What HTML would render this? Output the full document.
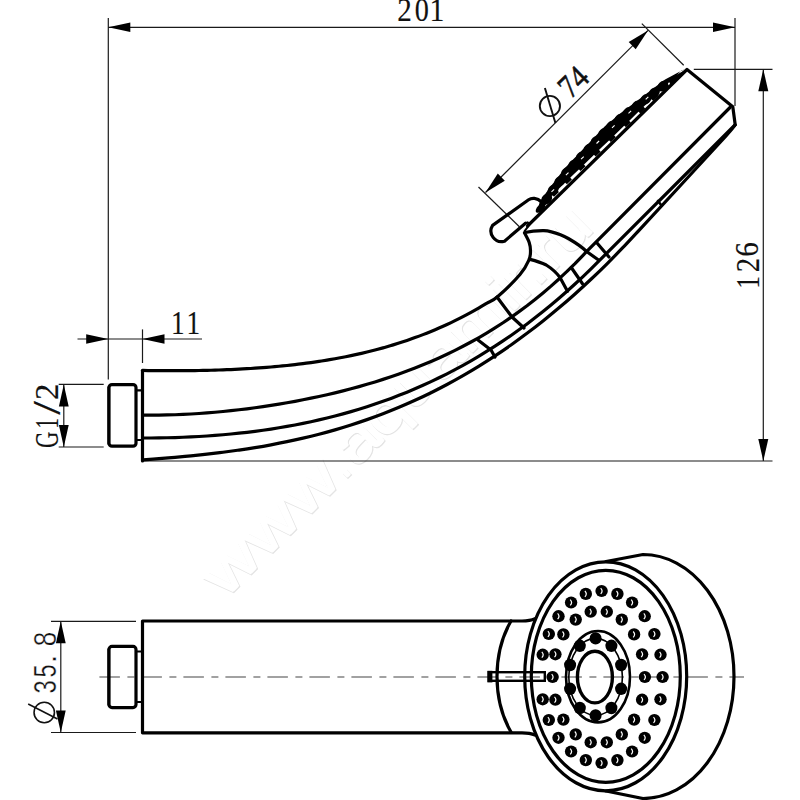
<!DOCTYPE html>
<html><head><meta charset="utf-8"><style>
html,body{margin:0;padding:0;background:#fff;}
svg{display:block;}
</style></head><body>
<svg width="800" height="800" viewBox="0 0 800 800">
<rect width="800" height="800" fill="#fff"/>
<g font-family="Liberation Sans" font-size="57">
<text transform="translate(225.9,600.3) rotate(-45)" textLength="167" lengthAdjust="spacingAndGlyphs" fill="none" stroke="#e4e4e4" stroke-width="1.3">www</text><text transform="translate(224.9,599.3) rotate(-45)" textLength="167" lengthAdjust="spacingAndGlyphs" fill="#fff" stroke="#fff" stroke-width="0.9">www</text><text transform="translate(344.7,481.5) rotate(-45)" textLength="14" lengthAdjust="spacingAndGlyphs" fill="none" stroke="#e4e4e4" stroke-width="1.3">.</text><text transform="translate(343.7,480.5) rotate(-45)" textLength="14" lengthAdjust="spacingAndGlyphs" fill="#fff" stroke="#fff" stroke-width="0.9">.</text><text transform="translate(356.8,469.4) rotate(-45)" textLength="339" lengthAdjust="spacingAndGlyphs" fill="none" stroke="#e4e4e4" stroke-width="1.3">aquamir.ru</text><text transform="translate(355.8,468.4) rotate(-45)" textLength="339" lengthAdjust="spacingAndGlyphs" fill="#fff" stroke="#fff" stroke-width="0.9">aquamir.ru</text>
</g>
<g stroke="#1a1a1a" stroke-width="1.2" fill="none"><line x1="108.3" y1="18" x2="108.3" y2="379.5" /><line x1="735" y1="18" x2="735" y2="106" /><line x1="108.3" y1="27.3" x2="735" y2="27.3" /><line x1="77.5" y1="339" x2="202" y2="339" /><line x1="142.5" y1="329.4" x2="142.5" y2="363" /><line x1="693.8" y1="69.3" x2="772.5" y2="69.3" /><line x1="143" y1="461" x2="772.5" y2="461" /><line x1="763.3" y1="69.3" x2="763.3" y2="461" /><line x1="58.7" y1="384.4" x2="103.7" y2="384.4" /><line x1="58.7" y1="447" x2="103.7" y2="447" /><line x1="63.8" y1="384.4" x2="63.8" y2="447" /><line x1="485.5" y1="192.5" x2="648" y2="30.4" /><line x1="478.5" y1="187" x2="519.4" y2="226.75" /><line x1="641.8" y1="23.6" x2="683.7" y2="65.3" /><line x1="51" y1="621.3" x2="136" y2="621.3" /><line x1="51" y1="732.5" x2="136" y2="732.5" /><line x1="60.8" y1="621.3" x2="60.8" y2="732.5" /></g>
<path d="M108.3,27.3 L130.3,32.1 L130.3,22.5 Z" fill="#000"/><path d="M735.0,27.3 L713.0,22.5 L713.0,32.1 Z" fill="#000"/><path d="M108.2,339.0 L86.2,334.2 L86.2,343.8 Z" fill="#000"/><path d="M142.5,339.0 L164.5,343.8 L164.5,334.2 Z" fill="#000"/><path d="M763.3,69.3 L758.3,91.3 L768.3,91.3 Z" fill="#000"/><path d="M763.3,461.0 L768.3,439.0 L758.3,439.0 Z" fill="#000"/><path d="M63.8,384.4 L58.9,406.4 L68.7,406.4 Z" fill="#000"/><path d="M63.8,447.0 L68.7,425.0 L58.9,425.0 Z" fill="#000"/><path d="M485.5,192.5 L504.8,180.8 L497.8,173.6 Z" fill="#000"/><path d="M648.0,30.4 L628.7,42.1 L635.7,49.3 Z" fill="#000"/><path d="M60.8,621.3 L55.9,643.3 L65.7,643.3 Z" fill="#000"/><path d="M60.8,732.5 L65.7,710.5 L55.9,710.5 Z" fill="#000"/>
<line x1="99.4" y1="677" x2="744" y2="677" stroke="#444" stroke-width="1.2" stroke-dasharray="20.5 7.5 7 7"/>
<g stroke="#000" stroke-width="3.2" fill="none" stroke-linejoin="round" stroke-linecap="round"><rect x="109.0" y="384.6" width="27.0" height="61.6" rx="3" ry="3" stroke-width="3.2"/><path d="M108.2,387 V444" stroke-width="1.6"/><path d="M136,390.3 H142.5 M136,440 H142.5" stroke-width="2.2"/><path d="M142.5,370.3 V461"/><path d="M143.00,370.47 C144.33,370.49 148.33,370.55 151.00,370.58 C153.67,370.62 156.33,370.64 159.00,370.67 C161.67,370.69 164.33,370.70 167.00,370.71 C169.67,370.72 172.33,370.72 175.00,370.72 C177.67,370.71 180.33,370.70 183.00,370.68 C185.67,370.67 188.33,370.64 191.00,370.61 C193.67,370.58 196.33,370.54 199.00,370.49 C201.67,370.44 204.33,370.39 207.00,370.33 C209.67,370.26 212.33,370.19 215.00,370.11 C217.67,370.03 220.33,369.95 223.00,369.85 C225.67,369.75 228.33,369.64 231.00,369.53 C233.67,369.41 236.33,369.29 239.00,369.15 C241.67,369.02 244.33,368.87 247.00,368.71 C249.67,368.56 252.33,368.39 255.00,368.21 C257.67,368.03 260.33,367.84 263.00,367.64 C265.67,367.44 268.33,367.23 271.00,367.00 C273.67,366.77 276.33,366.53 279.00,366.28 C281.67,366.03 284.33,365.76 287.00,365.48 C289.67,365.20 292.33,364.91 295.00,364.60 C297.67,364.29 300.33,363.97 303.00,363.63 C305.67,363.29 308.33,362.94 311.00,362.57 C313.67,362.19 316.33,361.81 319.00,361.40 C321.67,361.00 324.33,360.57 327.00,360.13 C329.67,359.69 332.33,359.23 335.00,358.75 C337.67,358.28 340.33,357.78 343.00,357.26 C345.67,356.74 348.33,356.21 351.00,355.65 C353.67,355.09 356.33,354.51 359.00,353.91 C361.67,353.30 364.33,352.68 367.00,352.03 C369.67,351.38 372.33,350.71 375.00,350.02 C377.67,349.32 380.33,348.60 383.00,347.86 C385.67,347.11 388.33,346.34 391.00,345.54 C393.67,344.74 396.33,343.92 399.00,343.07 C401.67,342.22 404.33,341.34 407.00,340.43 C409.67,339.52 412.33,338.58 415.00,337.61 C417.67,336.64 420.33,335.65 423.00,334.62 C425.67,333.59 428.33,332.52 431.00,331.43 C433.67,330.33 436.33,329.21 439.00,328.04 C441.67,326.88 444.33,325.69 447.00,324.45 C449.67,323.22 452.33,321.96 455.00,320.65 C457.67,319.35 460.33,318.00 463.00,316.62 C465.67,315.24 468.33,313.83 471.00,312.37 C473.67,310.91 476.33,309.41 479.00,307.87 C481.67,306.33 483.92,304.97 487.00,303.12 C490.08,301.28 492.00,301.57 497.50,296.80 C503.00,292.03 514.77,280.63 520.00,274.50 C525.23,268.37 527.15,263.92 528.90,260.00 C530.65,256.08 530.45,253.92 530.50,251.00 C530.55,248.08 530.20,245.52 529.20,242.50 C528.20,239.48 525.28,234.50 524.50,232.90"/><path d="M143.00,415.05 L151.00,415.12 L159.00,415.09 L167.00,414.96 L175.00,414.73 L183.00,414.41 L191.00,414.00 L199.00,413.50 L207.00,412.92 L215.00,412.25 L223.00,411.51 L231.00,410.69 L239.00,409.78 L247.00,408.81 L255.00,407.75 L263.00,406.62 L271.00,405.41 L279.00,404.13 L287.00,402.76 L295.00,401.32 L303.00,399.79 L311.00,398.18 L319.00,396.48 L327.00,394.70 L335.00,392.82 L343.00,390.84 L351.00,388.77 L359.00,386.59 L367.00,384.31 L375.00,381.91 L383.00,379.39 L391.00,376.75 L399.00,373.98 L407.00,371.07 L415.00,368.02 L423.00,364.82 L431.00,361.46 L439.00,357.93 L447.00,354.24 L455.00,350.36 L463.00,346.29 L471.00,342.02 L479.00,337.54 L487.00,332.85 L495.00,327.92 L503.00,322.76 L511.00,317.34 L519.00,311.66 L527.00,305.71 L535.00,299.48 L543.00,292.94 L551.00,286.10 L559.00,278.94 L567.00,271.43 L575.00,263.58 L583.00,255.36 L586.00,252.19 L730.00,107.50"/><path d="M143.00,438.01 L151.00,438.00 L159.00,437.91 L167.00,437.77 L175.00,437.55 L183.00,437.27 L191.00,436.92 L199.00,436.49 L207.00,436.00 L215.00,435.42 L223.00,434.77 L231.00,434.03 L239.00,433.21 L247.00,432.31 L255.00,431.32 L263.00,430.24 L271.00,429.06 L279.00,427.79 L287.00,426.43 L295.00,424.96 L303.00,423.39 L311.00,421.71 L319.00,419.92 L327.00,418.02 L335.00,416.00 L343.00,413.87 L351.00,411.62 L359.00,409.23 L367.00,406.73 L375.00,404.09 L383.00,401.31 L391.00,398.40 L399.00,395.34 L407.00,392.14 L415.00,388.79 L423.00,385.28 L431.00,381.62 L439.00,377.79 L447.00,373.81 L455.00,369.65 L463.00,365.32 L471.00,360.81 L479.00,356.12 L487.00,351.24 L495.00,346.18 L503.00,340.91 L511.00,335.45 L519.00,329.79 L527.00,323.92 L535.00,317.83 L543.00,311.53 L551.00,305.00 L559.00,298.25 L567.00,291.26 L575.00,284.04 L583.00,276.57 L591.00,268.86 L597.00,262.90 L735.00,125.00"/><path d="M143.00,459.81 C145.67,459.61 153.67,459.03 159.00,458.61 C164.33,458.19 169.67,457.75 175.00,457.29 C180.33,456.82 185.67,456.33 191.00,455.81 C196.33,455.28 201.67,454.73 207.00,454.13 C212.33,453.54 217.67,452.91 223.00,452.23 C228.33,451.55 233.67,450.84 239.00,450.07 C244.33,449.30 249.67,448.49 255.00,447.61 C260.33,446.74 265.67,445.82 271.00,444.83 C276.33,443.84 281.67,442.80 287.00,441.69 C292.33,440.58 297.67,439.41 303.00,438.17 C308.33,436.92 313.67,435.61 319.00,434.23 C324.33,432.84 329.67,431.38 335.00,429.84 C340.33,428.30 345.67,426.69 351.00,424.98 C356.33,423.28 361.67,421.50 367.00,419.63 C372.33,417.76 377.67,415.80 383.00,413.75 C388.33,411.70 393.67,409.56 399.00,407.32 C404.33,405.08 409.67,402.75 415.00,400.31 C420.33,397.88 425.67,395.35 431.00,392.71 C436.33,390.07 441.67,387.34 447.00,384.49 C452.33,381.64 457.67,378.69 463.00,375.63 C468.33,372.56 473.67,369.39 479.00,366.10 C484.33,362.81 489.67,359.41 495.00,355.89 C500.33,352.37 505.67,348.73 511.00,344.98 C516.33,341.22 521.67,337.34 527.00,333.34 C532.33,329.34 537.67,325.22 543.00,320.97 C548.33,316.72 553.67,312.35 559.00,307.84 C564.33,303.34 569.67,298.71 575.00,293.94 C580.33,289.18 585.67,284.29 591.00,279.26 C596.33,274.23 601.67,269.07 607.00,263.77 C612.33,258.47 617.67,253.04 623.00,247.47 C628.33,241.89 622.83,247.83 639.00,230.34 C655.17,212.84 704.00,160.06 720.00,142.50 C736.00,124.94 732.50,127.92 735.00,125.00"/><path d="M497,297 L512,317 L524,328"/><path d="M478,340 L491,350 L495,357"/><path d="M586.25,251.25 L598.5,260"/><path d="M560,277.5 L567.5,291.25"/><path d="M571.25,267.5 L582.5,283.75"/><path d="M597,243 L609,257"/><path d="M658,201 L661.5,205.5" stroke-width="2.6"/><path d="M525,232.5 C533,230.5 543.75,230.6 543.75,230.6 C555,231 568.75,238.75 568.75,238.75 C576,243 582,247 586.25,251.25"/><path d="M530,259.4 C536,261 542,263 546.25,265 C551,268 556,272 560,277.5"/><path d="M527.5,226 L687,69.5 L732.8,106.8 L735.2,124.8"/><path d="M525.5,223.25 L504.5,241.2 A10.6,10.6 0 0 1 492.6,225.4 L528.6,199.8 C531.5,197.8 537,197.5 541.5,202"/><path d="M525.5,223.25 L527.7,222.3 L529.5,224.6 L524.6,231.1" stroke-width="2"/><rect x="109.0" y="646.4" width="27.0" height="61.2" rx="3" ry="3" stroke-width="3.2"/><path d="M108.2,649 V705" stroke-width="1.6"/><path d="M136,651.5 H142.5 M136,702 H142.5" stroke-width="2.2"/><path d="M142.5,732.5 V621 H522 Q530,621 535,618.7 M142.5,732.8 H522 Q530,732.8 535,735"/><path d="M511,621 C500,640 497,660 497,676.5 C497,693 500,713 511,732"/><path d="M606,561.5 L643,554.5 A91,122 0 0 1 643,798.5 L606,791"/><ellipse cx="605.7" cy="676.3" rx="81" ry="114.5"/><ellipse cx="605.8" cy="676.3" rx="74.5" ry="106"/><ellipse cx="598" cy="676.7" rx="32" ry="45.7" stroke-width="2.6"/><ellipse cx="595.6" cy="676.9" rx="26.8" ry="38.5" stroke-width="1.6"/><ellipse cx="594.9" cy="677.1" rx="17.5" ry="25.8" stroke-width="3.4"/></g>
<path d="M538.0,209.8 L538.6,206.7 L539.2,203.7 L540.4,201.2 L541.8,199.0 L543.3,196.9 L544.8,194.7 L546.2,192.6 L547.7,190.4 L549.3,188.3 L550.9,186.3 L552.4,184.2 L554.0,182.2 L555.6,180.1 L557.2,178.1 L558.8,176.0 L560.3,173.9 L561.9,171.9 L563.5,169.8 L565.1,167.8 L566.9,166.0 L568.7,164.1 L570.5,162.3 L572.2,160.4 L574.0,158.6 L575.8,156.7 L577.6,154.9 L579.3,153.0 L581.1,151.2 L582.9,149.3 L584.7,147.5 L586.4,145.6 L588.2,143.8 L590.0,141.9 L591.7,140.1 L593.5,138.2 L595.3,136.3 L597.0,134.5 L598.8,132.6 L600.6,130.8 L602.3,128.9 L604.1,127.1 L606.0,125.3 L608.0,123.7 L610.0,122.0 L611.9,120.4 L613.9,118.7 L615.9,117.1 L617.8,115.5 L619.8,113.8 L621.8,112.2 L623.9,110.6 L625.9,109.1 L628.0,107.5 L630.1,106.0 L632.2,104.5 L634.2,102.9 L636.3,101.4 L638.4,99.8 L640.5,98.3 L642.5,96.7 L644.6,95.2 L646.6,93.6 L648.6,92.0 L650.7,90.4 L652.7,88.9 L654.8,87.3 L656.8,85.7 L658.9,84.2 L660.9,82.6 L663.0,81.0 L665.1,79.5 L667.4,78.3 L669.8,77.0 L672.1,75.7 L674.4,74.4 L676.7,73.2 L679.1,71.9 L681.6,70.8 L684.0,69.6 L686.4,68.4 L681.4,70.4 L674.2,77.4 L667.0,84.3 L659.8,91.3 L652.6,98.2 L645.4,105.1 L638.2,112.1 L631.1,119.0 L623.9,126.0 L616.7,132.9 L609.5,139.9 L602.3,146.8 L595.1,153.8 L587.9,160.7 L580.7,167.7 L573.5,174.6 L566.3,181.6 L559.1,188.5 L551.9,195.5 L544.8,202.4 L537.6,209.4 Z" fill="#000"/><ellipse cx="540.5" cy="208.1" rx="6.0" ry="3.1" transform="rotate(-44 540.5 208.1)" fill="#000"/><ellipse cx="546.7" cy="199.0" rx="6.0" ry="4.8" transform="rotate(-44 546.7 199.0)" fill="#000"/><ellipse cx="553.1" cy="190.0" rx="6.0" ry="4.8" transform="rotate(-44 553.1 190.0)" fill="#000"/><ellipse cx="559.7" cy="181.4" rx="6.0" ry="4.8" transform="rotate(-44 559.7 181.4)" fill="#000"/><ellipse cx="566.4" cy="172.7" rx="6.0" ry="4.8" transform="rotate(-44 566.4 172.7)" fill="#000"/><ellipse cx="573.7" cy="164.8" rx="6.0" ry="4.8" transform="rotate(-44 573.7 164.8)" fill="#000"/><ellipse cx="581.2" cy="157.0" rx="6.0" ry="4.8" transform="rotate(-44 581.2 157.0)" fill="#000"/><ellipse cx="588.7" cy="149.2" rx="6.0" ry="4.8" transform="rotate(-44 588.7 149.2)" fill="#000"/><ellipse cx="596.1" cy="141.3" rx="6.0" ry="4.8" transform="rotate(-44 596.1 141.3)" fill="#000"/><ellipse cx="603.6" cy="133.5" rx="6.0" ry="4.8" transform="rotate(-44 603.6 133.5)" fill="#000"/><ellipse cx="611.4" cy="126.1" rx="6.0" ry="4.8" transform="rotate(-44 611.4 126.1)" fill="#000"/><ellipse cx="619.8" cy="119.2" rx="6.0" ry="4.8" transform="rotate(-44 619.8 119.2)" fill="#000"/><ellipse cx="628.3" cy="112.4" rx="6.0" ry="4.8" transform="rotate(-44 628.3 112.4)" fill="#000"/><ellipse cx="637.0" cy="105.9" rx="6.0" ry="4.8" transform="rotate(-44 637.0 105.9)" fill="#000"/><ellipse cx="645.7" cy="99.4" rx="6.0" ry="4.8" transform="rotate(-44 645.7 99.4)" fill="#000"/><ellipse cx="654.3" cy="92.8" rx="6.0" ry="4.8" transform="rotate(-44 654.3 92.8)" fill="#000"/><ellipse cx="662.9" cy="86.1" rx="6.0" ry="4.8" transform="rotate(-44 662.9 86.1)" fill="#000"/><line x1="545.0" y1="205.5" x2="542.7" y2="203.2" stroke="#000" stroke-width="4"/><line x1="556.5" y1="194.4" x2="554.2" y2="192.1" stroke="#000" stroke-width="7"/><line x1="569.4" y1="181.9" x2="567.1" y2="179.5" stroke="#000" stroke-width="7"/><line x1="583.1" y1="168.7" x2="580.8" y2="166.3" stroke="#000" stroke-width="7"/><line x1="598.2" y1="154.1" x2="595.9" y2="151.8" stroke="#000" stroke-width="7"/><line x1="613.3" y1="139.5" x2="611.0" y2="137.2" stroke="#000" stroke-width="7"/><line x1="628.4" y1="124.9" x2="626.1" y2="122.6" stroke="#000" stroke-width="7"/><line x1="642.8" y1="111.0" x2="640.5" y2="108.7" stroke="#000" stroke-width="7"/><line x1="655.7" y1="98.5" x2="653.4" y2="96.2" stroke="#000" stroke-width="7"/><line x1="666.5" y1="88.1" x2="664.2" y2="85.7" stroke="#000" stroke-width="7"/><path d="M670.6,85.1 L667.9,79.4 L686.9,68.9 Z" fill="#000"/><line x1="551.5" y1="191.9" x2="554.1" y2="189.4" stroke="#fff" stroke-width="1.1"/><line x1="565.9" y1="175.1" x2="568.5" y2="172.6" stroke="#fff" stroke-width="1.1"/><line x1="581.1" y1="159.1" x2="583.7" y2="156.6" stroke="#fff" stroke-width="1.1"/><line x1="596.5" y1="143.5" x2="599.1" y2="141.0" stroke="#fff" stroke-width="1.1"/><line x1="612.0" y1="127.8" x2="614.6" y2="125.3" stroke="#fff" stroke-width="1.1"/><line x1="628.5" y1="113.3" x2="631.1" y2="110.8" stroke="#fff" stroke-width="1.1"/><line x1="645.7" y1="99.4" x2="648.3" y2="96.9" stroke="#fff" stroke-width="1.1"/>
<ellipse cx="601.6" cy="591.0" rx="6.2" ry="6.1" fill="#000"/><path d="M600.7,588.1 Q603.5,591.0 600.7,593.9" stroke="#fff" stroke-width="1.2" fill="none"/><ellipse cx="617.4" cy="593.9" rx="6.2" ry="6.1" fill="#000"/><path d="M616.5,591.0 Q619.3,593.9 616.5,596.8" stroke="#fff" stroke-width="1.2" fill="none"/><ellipse cx="632.1" cy="602.5" rx="6.2" ry="6.1" fill="#000"/><path d="M631.2,599.6 Q634.0,602.5 631.2,605.4" stroke="#fff" stroke-width="1.2" fill="none"/><ellipse cx="644.7" cy="616.2" rx="6.2" ry="6.1" fill="#000"/><path d="M643.8,613.3 Q646.6,616.2 643.8,619.1" stroke="#fff" stroke-width="1.2" fill="none"/><ellipse cx="654.4" cy="634.0" rx="6.2" ry="6.1" fill="#000"/><path d="M653.5,631.1 Q656.3,634.0 653.5,636.9" stroke="#fff" stroke-width="1.2" fill="none"/><ellipse cx="660.5" cy="654.7" rx="6.2" ry="6.1" fill="#000"/><path d="M659.6,651.8 Q662.4,654.7 659.6,657.6" stroke="#fff" stroke-width="1.2" fill="none"/><ellipse cx="662.6" cy="677.0" rx="6.2" ry="6.1" fill="#000"/><path d="M661.7,674.1 Q664.5,677.0 661.7,679.9" stroke="#fff" stroke-width="1.2" fill="none"/><ellipse cx="660.5" cy="699.3" rx="6.2" ry="6.1" fill="#000"/><path d="M659.6,696.4 Q662.4,699.3 659.6,702.2" stroke="#fff" stroke-width="1.2" fill="none"/><ellipse cx="654.4" cy="720.0" rx="6.2" ry="6.1" fill="#000"/><path d="M653.5,717.1 Q656.3,720.0 653.5,722.9" stroke="#fff" stroke-width="1.2" fill="none"/><ellipse cx="644.7" cy="737.8" rx="6.2" ry="6.1" fill="#000"/><path d="M643.8,734.9 Q646.6,737.8 643.8,740.7" stroke="#fff" stroke-width="1.2" fill="none"/><ellipse cx="632.1" cy="751.5" rx="6.2" ry="6.1" fill="#000"/><path d="M631.2,748.6 Q634.0,751.5 631.2,754.4" stroke="#fff" stroke-width="1.2" fill="none"/><ellipse cx="617.4" cy="760.1" rx="6.2" ry="6.1" fill="#000"/><path d="M616.5,757.2 Q619.3,760.1 616.5,763.0" stroke="#fff" stroke-width="1.2" fill="none"/><ellipse cx="601.6" cy="763.0" rx="6.2" ry="6.1" fill="#000"/><path d="M600.7,760.1 Q603.5,763.0 600.7,765.9" stroke="#fff" stroke-width="1.2" fill="none"/><ellipse cx="585.8" cy="760.1" rx="6.2" ry="6.1" fill="#000"/><path d="M584.9,757.2 Q587.7,760.1 584.9,763.0" stroke="#fff" stroke-width="1.2" fill="none"/><ellipse cx="571.1" cy="751.5" rx="6.2" ry="6.1" fill="#000"/><path d="M570.2,748.6 Q573.0,751.5 570.2,754.4" stroke="#fff" stroke-width="1.2" fill="none"/><ellipse cx="558.5" cy="737.8" rx="6.2" ry="6.1" fill="#000"/><path d="M557.6,734.9 Q560.4,737.8 557.6,740.7" stroke="#fff" stroke-width="1.2" fill="none"/><ellipse cx="548.8" cy="720.0" rx="6.2" ry="6.1" fill="#000"/><path d="M547.9,717.1 Q550.7,720.0 547.9,722.9" stroke="#fff" stroke-width="1.2" fill="none"/><ellipse cx="542.7" cy="699.3" rx="6.2" ry="6.1" fill="#000"/><path d="M541.8,696.4 Q544.6,699.3 541.8,702.2" stroke="#fff" stroke-width="1.2" fill="none"/><ellipse cx="542.7" cy="654.7" rx="6.2" ry="6.1" fill="#000"/><path d="M541.8,651.8 Q544.6,654.7 541.8,657.6" stroke="#fff" stroke-width="1.2" fill="none"/><ellipse cx="548.8" cy="634.0" rx="6.2" ry="6.1" fill="#000"/><path d="M547.9,631.1 Q550.7,634.0 547.9,636.9" stroke="#fff" stroke-width="1.2" fill="none"/><ellipse cx="558.5" cy="616.2" rx="6.2" ry="6.1" fill="#000"/><path d="M557.6,613.3 Q560.4,616.2 557.6,619.1" stroke="#fff" stroke-width="1.2" fill="none"/><ellipse cx="571.1" cy="602.5" rx="6.2" ry="6.1" fill="#000"/><path d="M570.2,599.6 Q573.0,602.5 570.2,605.4" stroke="#fff" stroke-width="1.2" fill="none"/><ellipse cx="585.8" cy="593.9" rx="6.2" ry="6.1" fill="#000"/><path d="M584.9,591.0 Q587.7,593.9 584.9,596.8" stroke="#fff" stroke-width="1.2" fill="none"/><ellipse cx="606.8" cy="611.7" rx="6.2" ry="6.1" fill="#000"/><path d="M605.9,608.8 Q608.7,611.7 605.9,614.6" stroke="#fff" stroke-width="1.2" fill="none"/><ellipse cx="621.8" cy="619.6" rx="6.2" ry="6.1" fill="#000"/><path d="M620.9,616.7 Q623.7,619.6 620.9,622.5" stroke="#fff" stroke-width="1.2" fill="none"/><ellipse cx="634.1" cy="634.4" rx="6.2" ry="6.1" fill="#000"/><path d="M633.2,631.5 Q636.0,634.4 633.2,637.3" stroke="#fff" stroke-width="1.2" fill="none"/><ellipse cx="642.1" cy="654.3" rx="6.2" ry="6.1" fill="#000"/><path d="M641.2,651.4 Q644.0,654.3 641.2,657.2" stroke="#fff" stroke-width="1.2" fill="none"/><ellipse cx="644.9" cy="677.0" rx="6.2" ry="6.1" fill="#000"/><path d="M644.0,674.1 Q646.8,677.0 644.0,679.9" stroke="#fff" stroke-width="1.2" fill="none"/><ellipse cx="642.1" cy="699.7" rx="6.2" ry="6.1" fill="#000"/><path d="M641.2,696.8 Q644.0,699.7 641.2,702.6" stroke="#fff" stroke-width="1.2" fill="none"/><ellipse cx="634.1" cy="719.6" rx="6.2" ry="6.1" fill="#000"/><path d="M633.2,716.7 Q636.0,719.6 633.2,722.5" stroke="#fff" stroke-width="1.2" fill="none"/><ellipse cx="621.8" cy="734.4" rx="6.2" ry="6.1" fill="#000"/><path d="M620.9,731.5 Q623.7,734.4 620.9,737.3" stroke="#fff" stroke-width="1.2" fill="none"/><ellipse cx="606.8" cy="742.3" rx="6.2" ry="6.1" fill="#000"/><path d="M605.9,739.4 Q608.7,742.3 605.9,745.2" stroke="#fff" stroke-width="1.2" fill="none"/><ellipse cx="590.7" cy="742.3" rx="6.2" ry="6.1" fill="#000"/><path d="M589.8,739.4 Q592.6,742.3 589.8,745.2" stroke="#fff" stroke-width="1.2" fill="none"/><ellipse cx="575.7" cy="734.4" rx="6.2" ry="6.1" fill="#000"/><path d="M574.8,731.5 Q577.6,734.4 574.8,737.3" stroke="#fff" stroke-width="1.2" fill="none"/><ellipse cx="563.4" cy="719.6" rx="6.2" ry="6.1" fill="#000"/><path d="M562.5,716.7 Q565.3,719.6 562.5,722.5" stroke="#fff" stroke-width="1.2" fill="none"/><ellipse cx="555.4" cy="699.7" rx="6.2" ry="6.1" fill="#000"/><path d="M554.5,696.8 Q557.3,699.7 554.5,702.6" stroke="#fff" stroke-width="1.2" fill="none"/><ellipse cx="552.6" cy="677.0" rx="6.2" ry="6.1" fill="#000"/><path d="M551.7,674.1 Q554.5,677.0 551.7,679.9" stroke="#fff" stroke-width="1.2" fill="none"/><ellipse cx="555.4" cy="654.3" rx="6.2" ry="6.1" fill="#000"/><path d="M554.5,651.4 Q557.3,654.3 554.5,657.2" stroke="#fff" stroke-width="1.2" fill="none"/><ellipse cx="563.4" cy="634.4" rx="6.2" ry="6.1" fill="#000"/><path d="M562.5,631.5 Q565.3,634.4 562.5,637.3" stroke="#fff" stroke-width="1.2" fill="none"/><ellipse cx="575.7" cy="619.6" rx="6.2" ry="6.1" fill="#000"/><path d="M574.8,616.7 Q577.6,619.6 574.8,622.5" stroke="#fff" stroke-width="1.2" fill="none"/><ellipse cx="590.7" cy="611.7" rx="6.2" ry="6.1" fill="#000"/><path d="M589.8,608.8 Q592.6,611.7 589.8,614.6" stroke="#fff" stroke-width="1.2" fill="none"/><ellipse cx="595.6" cy="638.4" rx="6.0" ry="6.2" fill="#000"/><ellipse cx="611.4" cy="645.8" rx="6.0" ry="6.2" fill="#000"/><ellipse cx="621.1" cy="665.0" rx="6.0" ry="6.2" fill="#000"/><ellipse cx="621.1" cy="688.8" rx="6.0" ry="6.2" fill="#000"/><ellipse cx="611.4" cy="708.0" rx="6.0" ry="6.2" fill="#000"/><ellipse cx="595.6" cy="715.4" rx="6.0" ry="6.2" fill="#000"/><ellipse cx="579.8" cy="708.0" rx="6.0" ry="6.2" fill="#000"/><ellipse cx="570.1" cy="688.8" rx="6.0" ry="6.2" fill="#000"/><ellipse cx="570.1" cy="665.0" rx="6.0" ry="6.2" fill="#000"/><ellipse cx="579.8" cy="645.8" rx="6.0" ry="6.2" fill="#000"/>
<rect x="488.8" y="672.2" width="56" height="8.6" fill="none" stroke="#000" stroke-width="2.4"/><rect x="487.4" y="670.8" width="5" height="11.6" fill="#000"/>
<text transform="translate(0.00,0.00) rotate(0) translate(397.29,21.40) scale(0.877,1)" x="0" y="0" font-size="33.21" font-family="Liberation Serif" fill="#111" stroke="#111" stroke-width="0.15">2</text><text transform="translate(0.00,0.00) rotate(0) translate(414.84,21.27) scale(0.859,1)" x="0" y="0" font-size="32.89" font-family="Liberation Serif" fill="#111" stroke="#111" stroke-width="0.15">0</text><text transform="translate(0.00,0.00) rotate(0) translate(429.39,21.40) scale(0.894,1)" x="0" y="0" font-size="33.33" font-family="Liberation Serif" fill="#111" stroke="#111" stroke-width="0.15">1</text><text transform="translate(0.00,0.00) rotate(0) translate(170.92,333.75) scale(0.819,1)" x="0" y="0" font-size="33.26" font-family="Liberation Serif" fill="#111" stroke="#111" stroke-width="0.15">1</text><text transform="translate(0.00,0.00) rotate(0) translate(186.62,333.75) scale(0.819,1)" x="0" y="0" font-size="33.26" font-family="Liberation Serif" fill="#111" stroke="#111" stroke-width="0.15">1</text><text transform="translate(758.50,286.50) rotate(-90) translate(-2.23,0.00) scale(0.766,1)" x="0" y="0" font-size="33.33" font-family="Liberation Serif" fill="#111" stroke="#111" stroke-width="0.15">1</text><text transform="translate(758.50,286.50) rotate(-90) translate(14.21,0.00) scale(0.866,1)" x="0" y="0" font-size="33.21" font-family="Liberation Serif" fill="#111" stroke="#111" stroke-width="0.15">2</text><text transform="translate(758.50,286.50) rotate(-90) translate(29.76,-0.33) scale(0.894,1)" x="0" y="0" font-size="32.71" font-family="Liberation Serif" fill="#111" stroke="#111" stroke-width="0.15">6</text><text transform="translate(58.40,447.00) rotate(-90) translate(-0.91,-0.03) scale(0.684,1)" x="0" y="0" font-size="33.31" font-family="Liberation Serif" fill="#111" stroke="#111" stroke-width="0.15">G</text><text transform="translate(58.40,447.00) rotate(-90) translate(18.31,0.00) scale(0.659,1)" x="0" y="0" font-size="32.73" font-family="Liberation Serif" fill="#111" stroke="#111" stroke-width="0.15">1</text><text transform="translate(58.40,447.00) rotate(-90) translate(32.30,1.80) scale(1.244,1)" x="0" y="0" font-size="39.70" font-family="Liberation Serif" fill="#111" stroke="#111" stroke-width="0.15">/</text><text transform="translate(58.40,447.00) rotate(-90) translate(47.03,0.00) scale(0.995,1)" x="0" y="0" font-size="32.91" font-family="Liberation Serif" fill="#111" stroke="#111" stroke-width="0.15">2</text><text transform="translate(55.60,692.50) rotate(-90) translate(-0.89,-0.02) scale(0.755,1)" x="0" y="0" font-size="31.52" font-family="Liberation Sans" fill="#111" stroke="#fff" stroke-width="0.35">3</text><text transform="translate(55.60,692.50) rotate(-90) translate(15.06,-0.02) scale(0.738,1)" x="0" y="0" font-size="31.97" font-family="Liberation Sans" fill="#111" stroke="#fff" stroke-width="0.35">5</text><text transform="translate(55.60,692.50) rotate(-90) translate(28.69,0.00) scale(1.167,1)" x="0" y="0" font-size="29.77" font-family="Liberation Sans" fill="#111" stroke="#fff" stroke-width="0.35">.</text><text transform="translate(55.60,692.50) rotate(-90) translate(46.20,-0.02) scale(0.824,1)" x="0" y="0" font-size="31.52" font-family="Liberation Sans" fill="#111" stroke="#fff" stroke-width="0.35">8</text><text transform="translate(570.40,99.80) rotate(-44) scale(0.880,1)" x="0" y="0" font-size="32.80" font-family="Liberation Serif" fill="#111" stroke="#111" stroke-width="0.5">74</text><g fill="none" stroke="#111" stroke-width="1.6"><circle cx="44.25" cy="712.5" r="10.2"/><line x1="28.2" y1="704" x2="57.5" y2="719"/></g><g fill="none" stroke="#111" stroke-width="1.9"><circle cx="549.9" cy="106" r="10.1"/><line x1="544.9" y1="88" x2="555.4" y2="123"/></g>
</svg>
</body></html>
